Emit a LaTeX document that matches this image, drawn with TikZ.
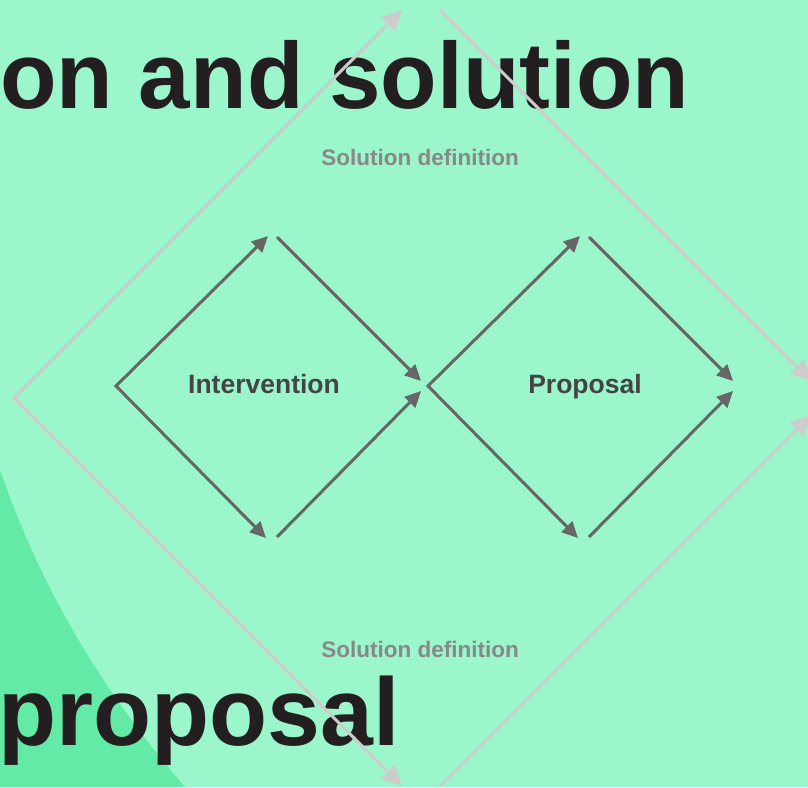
\documentclass[tikz,border=0pt]{standalone}
\usepackage{fontspec}
\setmainfont{Liberation Sans}
\usetikzlibrary{arrows.meta}
\definecolor{mint}{HTML}{9BF7CB}
\definecolor{blob}{HTML}{63EAA6}
\definecolor{ink}{HTML}{231F20}
\definecolor{arrowgrey}{HTML}{666666}
\definecolor{outergrey}{HTML}{CCCCCC}
\definecolor{labelgrey}{HTML}{444444}
\definecolor{phasegrey}{HTML}{888888}

\begin{document}
\begin{tikzpicture}[x=1pt,y=-1pt,
		inner/.style={draw=arrowgrey,line width=3pt,>={Triangle[length=16pt,width=15pt]}},
		outer/.style={draw=outergrey,line width=3pt,>={Triangle[length=20pt,width=19pt]}},
		title/.style={font=\fontsize{94}{94}\selectfont\bfseries,text=ink,anchor=base west,inner sep=0pt},
		phase/.style={font=\fontsize{22.5}{22.5}\selectfont\bfseries,text=phasegrey,anchor=base,inner sep=0pt},
		stage/.style={font=\fontsize{26.5}{26.5}\selectfont\bfseries,text=labelgrey,anchor=base,inner sep=0pt}]
			\useasboundingbox (0,0) rectangle (808,787);
			\clip (0,0) rectangle (808,787);
			\fill[mint] (0,0) rectangle (808,787);
			\fill[blob] (0,470) .. controls (45,600) and (110,700) .. (185,787) -- (0,787) -- cycle;
			\node [title,xscale=0.985] (TitleTop) at (0,108) {on and solution};
			\node [title,font=\fontsize{96}{96}\selectfont\bfseries,xscale=0.99] (TitleBottom) at (-2,745) {proposal};
			% outer diamond
			\coordinate (OuterLeft) at (14,398);
			\coordinate (OuterTopIn) at (402,10);
			\coordinate (OuterTopOut) at (440,10);
			\coordinate (OuterRightUp) at (811,381);
			\coordinate (OuterRightDown) at (811,415);
			\coordinate (OuterBottomIn) at (402,786);
			\coordinate (OuterBottomOut) at (440,786);
			\draw[outer,<->] (OuterTopIn) -- (OuterLeft) -- (OuterBottomIn);
			\draw[outer,->] (OuterTopOut) -- (OuterRightUp);
			\draw[outer,->] (OuterBottomOut) -- (OuterRightDown);
			\node [phase] (DefTop) at (420,165) {Solution definition};
			\node [phase] (DefBottom) at (420,657) {Solution definition};
			% divider
			\coordinate (DivTop) at (425,243);
			\coordinate (DivBottom) at (425,505);
			\draw[outergrey!60!mint,line width=0.8pt,dash pattern=on 5pt off 4pt] (DivTop) -- (DivBottom);
			% intervention diamond
			\coordinate (InterLeft) at (116,386);
			\coordinate (InterTopIn) at (268,236);
			\coordinate (InterTopOut) at (277,237);
			\coordinate (InterRightUp) at (421,381);
			\coordinate (InterRightDown) at (421,391);
			\coordinate (InterBottomIn) at (266,538);
			\coordinate (InterBottomOut) at (277,537);
			\draw[inner,<->] (InterTopIn) -- (InterLeft) -- (InterBottomIn);
			\draw[inner,->] (InterTopOut) -- (InterRightUp);
			\draw[inner,->] (InterBottomOut) -- (InterRightDown);
			\node [stage] (Intervention) at (264,393) {Intervention};
			% proposal diamond
			\coordinate (PropLeft) at (428,386);
			\coordinate (PropTopIn) at (580,236);
			\coordinate (PropTopOut) at (589,237);
			\coordinate (PropRightUp) at (733,381);
			\coordinate (PropRightDown) at (733,391);
			\coordinate (PropBottomIn) at (578,538);
			\coordinate (PropBottomOut) at (589,537);
			\draw[inner,<->] (PropTopIn) -- (PropLeft) -- (PropBottomIn);
			\draw[inner,->] (PropTopOut) -- (PropRightUp);
			\draw[inner,->] (PropBottomOut) -- (PropRightDown);
			\node [stage] (Proposal) at (585,393) {Proposal};
		\end{tikzpicture}
\end{document}
